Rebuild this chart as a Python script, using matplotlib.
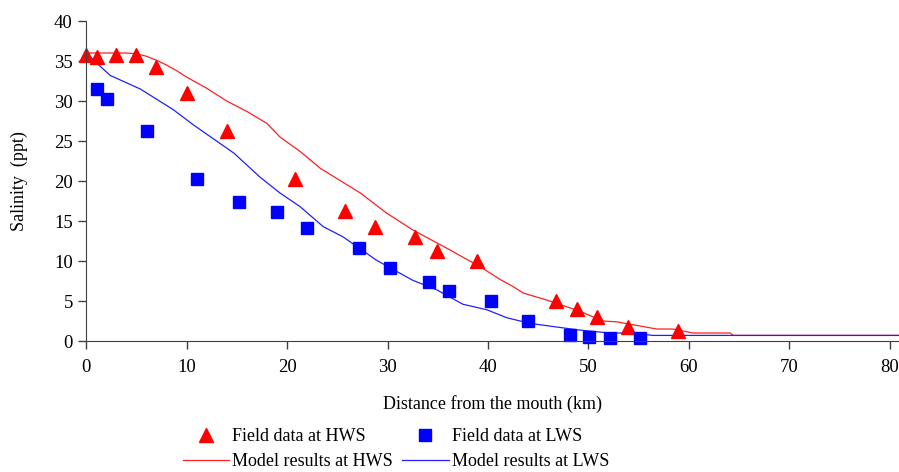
import matplotlib
matplotlib.use("Agg")
import matplotlib.pyplot as plt
from matplotlib.lines import Line2D

plt.rcParams['font.family'] = ['Liberation Serif', 'DejaVu Serif']

# Field data
hws_km = [0, 1.1, 3, 5, 7, 10, 14, 20.8, 25.8, 28.8, 32.7, 34.9, 38.9, 46.8, 48.9, 50.8, 53.9, 58.9]
hws_sal = [35.8, 35.5, 35.8, 35.8, 34.2, 31.0, 26.2, 20.2, 16.2, 14.2, 13.0, 11.3, 10.0, 5.0, 4.0, 3.0, 1.8, 1.2]

lws_km = [1.1, 2.1, 6.1, 11.0, 15.2, 19.0, 22.0, 27.2, 30.2, 34.1, 36.1, 40.3, 44.0, 48.2, 50.1, 52.1, 55.1]
lws_sal = [31.5, 30.2, 26.2, 20.2, 17.4, 16.1, 14.1, 11.6, 9.1, 7.4, 6.2, 5.0, 2.5, 0.7, 0.5, 0.4, 0.4]

# Model results
mod_hws_km = [0, 2, 4, 5, 6, 7, 8, 9, 10, 12, 14, 16, 18, 19.3, 21.3, 23.3, 27.3, 29.9,
              32.5, 35.9, 39.2, 41.2, 42.5, 43.5, 45.9, 49.2, 51.4, 52.8, 56.8, 58.4,
              60.4, 64.1, 64.4, 80.9]
mod_hws_sal = [36, 36, 36, 35.9, 35.6, 35.1, 34.5, 33.8, 33.0, 31.6, 30.0, 28.7, 27.2, 25.5, 23.7,
               21.6, 18.5, 16.0, 13.9, 11.6, 9.3, 7.7, 6.8, 6.0, 5.1, 3.7, 2.5, 2.4, 1.5, 1.5,
               1.0, 1.0, 0.7, 0.7]

mod_lws_km = [0, 1.1, 2.4, 5.4, 8.7, 10.7, 14.7, 17.3, 19.3, 21.3, 23.6, 25.6, 28.9, 32.5,
              34.9, 37.5, 39.9, 41.9, 44.2, 48.9, 52.1, 54.4, 56.4, 80.9]
mod_lws_sal = [36, 34.7, 33.2, 31.5, 28.9, 27.0, 23.5, 20.5, 18.5, 16.8, 14.3, 13.0, 10.1, 7.6,
               6.4, 4.6, 3.9, 2.9, 2.2, 1.4, 1.0, 1.0, 0.7, 0.7]

fig = plt.figure(figsize=(8.99, 4.72), dpi=100)
ax = fig.add_axes([0.0957, 0.2775, 0.9043, 0.678])

ax.plot(mod_hws_km, mod_hws_sal, color='#ff2020', lw=0.9)
ax.plot(mod_lws_km, mod_lws_sal, color='#2020ff', lw=0.9)
ax.plot(hws_km, hws_sal, '^', color='#ff0000', markersize=10, linestyle='none', clip_on=False)
ax.plot(lws_km, lws_sal, 's', color='#0000ff', markersize=9, linestyle='none', clip_on=False)

ax.set_xlim(0, 80.9)
ax.set_ylim(0, 40)
ax.set_xticks(range(0, 81, 10))
ax.set_yticks(range(0, 41, 5))
ax.spines['top'].set_visible(False)
ax.spines['right'].set_visible(False)
for s in ['left', 'bottom']:
    ax.spines[s].set_color('#404040')
ax.tick_params(direction='out', length=6, width=1, colors='#404040', labelsize=13.5, labelcolor='black')
ax.tick_params(axis='x', pad=7)

ax.set_xlabel("Distance from the mouth (km)", fontsize=13, labelpad=14)
ax.set_ylabel("Salinity  (ppt)", fontsize=13, labelpad=19)

handles = [
    Line2D([], [], marker='^', color='#ff0000', linestyle='none', markersize=10),
    Line2D([], [], color='#ff2020', lw=0.9),
    Line2D([], [], marker='s', color='#0000ff', linestyle='none', markersize=9),
    Line2D([], [], color='#2020ff', lw=0.9),
]
labels = ["Field data at HWS", "Model results at HWS", "Field data at LWS", "Model results at LWS"]
fig.legend(handles, labels, ncol=2, loc='upper left', bbox_to_anchor=(0.193, 0.112),
           frameon=False, fontsize=13, handlelength=2.6, handletextpad=0.15,
           columnspacing=0.5, labelspacing=0.45, borderpad=0)

fig.savefig("out.png", dpi=100)
